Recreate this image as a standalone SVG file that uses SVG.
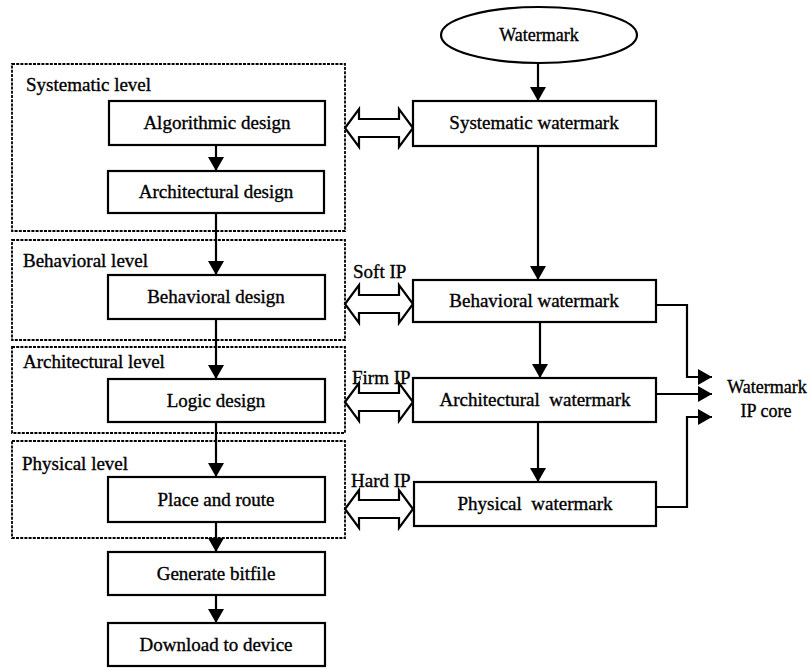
<svg xmlns="http://www.w3.org/2000/svg" width="809" height="668" viewBox="0 0 809 668" font-family="'Liberation Serif', 'DejaVu Serif', 'Times New Roman', serif">
<defs>
<style>
text{font-family:"Liberation Serif","DejaVu Serif","Times New Roman",serif;font-size:19px;fill:#000;stroke:#000;stroke-width:0.35;white-space:pre}
.c{text-anchor:middle}
.box{fill:#fff;stroke:#000;stroke-width:2.2}
.lvl{fill:none;stroke:#000;stroke-width:1.8;stroke-dasharray:3 1.2}
.ln{fill:none;stroke:#000;stroke-width:2.2}
.dbl{fill:#fff;stroke:#000;stroke-width:2.2;stroke-linejoin:miter}
</style>
<marker id="ah" viewBox="0 0 14 16" refX="14" refY="8" markerWidth="14" markerHeight="16" markerUnits="userSpaceOnUse" orient="auto">
<path d="M0,0 L14,8 L0,16 Z" fill="#000"/>
</marker>
<path id="darr" d="M345,0 L359,-19 L359,-9 L399,-9 L399,-19 L413,0 L399,19 L399,9 L359,9 L359,19 Z"/>
</defs>
<rect width="809" height="668" fill="#fff"/>

<g id="levels">
<g id="lvl-systematic"><rect class="lvl" x="12" y="64" width="333" height="167"/><text x="26" y="91">Systematic level</text></g>
<g id="lvl-behavioral"><rect class="lvl" x="12" y="240" width="333" height="100"/><text x="23" y="267">Behavioral level</text></g>
<g id="lvl-architectural"><rect class="lvl" x="12" y="347" width="333" height="86"/><text x="23" y="368">Architectural level</text></g>
<g id="lvl-physical"><rect class="lvl" x="12" y="441" width="333" height="97"/><text x="22" y="470">Physical level</text></g>
</g>

<g id="connectors">
<line class="ln" x1="216" y1="145" x2="216" y2="171" marker-end="url(#ah)"/>
<line class="ln" x1="216" y1="213" x2="216" y2="275" marker-end="url(#ah)"/>
<line class="ln" x1="216" y1="319" x2="216" y2="379" marker-end="url(#ah)"/>
<line class="ln" x1="216" y1="422" x2="216" y2="477" marker-end="url(#ah)"/>
<line class="ln" x1="216" y1="522" x2="216" y2="552" marker-end="url(#ah)"/>
<line class="ln" x1="216" y1="595" x2="216" y2="623" marker-end="url(#ah)"/>
<line class="ln" x1="538" y1="63" x2="538" y2="101" marker-end="url(#ah)"/>
<line class="ln" x1="538" y1="146" x2="538" y2="280" marker-end="url(#ah)"/>
<line class="ln" x1="540" y1="322" x2="540" y2="378" marker-end="url(#ah)"/>
<line class="ln" x1="538" y1="422" x2="538" y2="482" marker-end="url(#ah)"/>
<polyline class="ln" points="656,305 687,305 687,377 712,377" marker-end="url(#ah)"/>
<line class="ln" x1="656" y1="394" x2="712" y2="394" marker-end="url(#ah)"/>
<polyline class="ln" points="656,507 687,507 687,417 712,417" marker-end="url(#ah)"/>
<use href="#darr" class="dbl" transform="translate(0,128)"/>
<use href="#darr" class="dbl" transform="translate(0,304)"/>
<use href="#darr" class="dbl" transform="translate(0,402)"/>
<use href="#darr" class="dbl" transform="translate(0,509)"/>
<text x="353" y="278">Soft IP</text>
<text x="352" y="384">Firm IP</text>
<text x="351" y="487">Hard IP</text>
</g>

<g id="n-algorithmic"><rect class="box" x="109" y="101" width="216" height="44"/><text class="c" x="217" y="129">Algorithmic design</text></g>
<g id="n-architectural"><rect class="box" x="108" y="171" width="216" height="42"/><text class="c" x="216" y="198">Architectural design</text></g>
<g id="n-behavioral"><rect class="box" x="108" y="275" width="217" height="44"/><text class="c" x="216" y="303">Behavioral design</text></g>
<g id="n-logic"><rect class="box" x="108" y="379" width="217" height="43"/><text class="c" x="216" y="407">Logic design</text></g>
<g id="n-place"><rect class="box" x="108" y="477" width="217" height="45"/><text class="c" x="216" y="506">Place and route</text></g>
<g id="n-bitfile"><rect class="box" x="108" y="552" width="217" height="43"/><text class="c" x="216" y="580">Generate bitfile</text></g>
<g id="n-download"><rect class="box" x="108" y="623" width="217" height="43"/><text class="c" x="216" y="651">Download to device</text></g>

<g id="n-watermark"><ellipse class="box" cx="539" cy="35" rx="98" ry="28"/><text class="c" x="539" y="41" style="font-size:18px">Watermark</text></g>
<g id="n-sys-wm"><rect class="box" x="413" y="101" width="243" height="45"/><text class="c" x="534" y="129">Systematic watermark</text></g>
<g id="n-beh-wm"><rect class="box" x="413" y="280" width="243" height="42"/><text class="c" x="534" y="307">Behavioral watermark</text></g>
<g id="n-arch-wm"><rect class="box" x="413" y="378" width="243" height="44"/><text class="c" x="535" y="406">Architectural  watermark</text></g>
<g id="n-phys-wm"><rect class="box" x="414" y="482" width="242" height="44"/><text class="c" x="535" y="510">Physical  watermark</text></g>
<g id="n-ipcore"><text class="c" x="767" y="393" style="font-size:18px">Watermark</text><text class="c" x="766" y="417" style="font-size:18px">IP core</text></g>
</svg>
